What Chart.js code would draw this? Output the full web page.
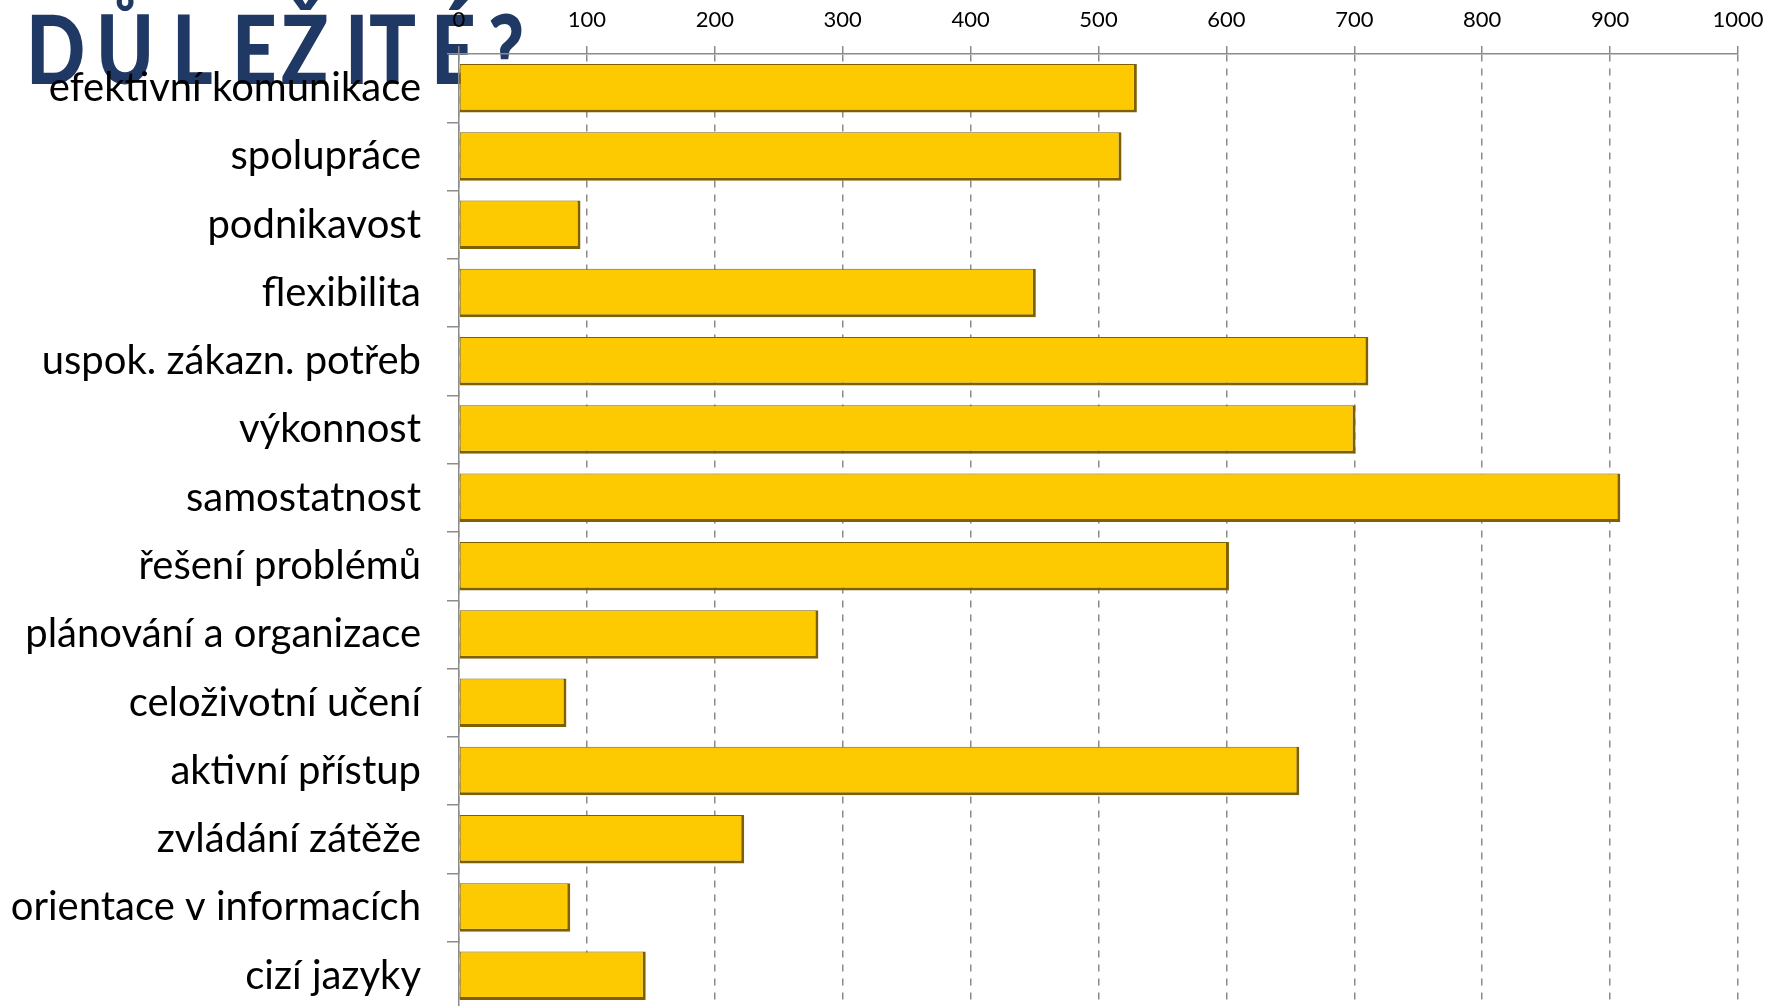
<!DOCTYPE html>
<html lang="cs">
<head>
<meta charset="utf-8">
<title>Důležité?</title>
<script src="https://cdn.jsdelivr.net/npm/chart.js@4"></script>
<style>
  html, body { margin: 0; padding: 0; background: #fff; overflow: hidden; }
  #wrap { position: relative; width: 1783px; height: 1006px; overflow: hidden; }
  #title { position: absolute; left: 0; top: 0; width: 700px; height: 110px; z-index: 0;
           font-family: Lato, sans-serif; font-weight: 900; font-size: 95px; color: #1F3864; }
  #title span { position: absolute; top: 0px; display: inline-block;
                transform: scaleX(0.82); transform-origin: left top; line-height: 1; }
  #chartBox { position: absolute; left: 0; top: 0; z-index: 1; }
</style>
</head>
<body>
<div id="wrap">
  <div id="title">
    <span style="left:26px">D</span><span style="left:96px">Ů</span><span style="left:172px">L</span>
    <span style="left:232px">E</span><span style="left:281px">Ž</span><span style="left:345px">I</span>
    <span style="left:369px">T</span><span style="left:431px">É</span><span style="left:488px">?</span>
  </div>
  <div id="chartBox"><canvas id="chartSkills" width="1783" height="1010"></canvas></div>
</div>
<script>
  // competences (top to bottom) and how many answers marked each as important
  const categories = [
    'efektivní komunikace', 'spolupráce', 'podnikavost', 'flexibilita',
    'uspok. zákazn. potřeb', 'výkonnost', 'samostatnost', 'řešení problémů',
    'plánování a organizace', 'celoživotní učení', 'aktivní přístup',
    'zvládání zátěže', 'orientace v informacích', 'cizí jazyky'
  ];
  const answers = [530, 518, 95, 451, 711, 701, 908, 602, 281, 84, 657, 223, 87, 146];
  const xTicks = [0, 100, 200, 300, 400, 500, 600, 700, 800, 900, 1000];

  const canvas = document.getElementById('chartSkills');

  new Chart(canvas.getContext('2d'), {
    type: 'bar',
    data: {
      labels: categories,
      datasets: [{
        data: answers,
        backgroundColor: '#FDC900',
        borderColor: '#7E6000',
        borderWidth: { top: 1, left: 1, right: 3, bottom: 3 },
        borderSkipped: false,
        categoryPercentage: 1,
        barPercentage: 0.71
      }]
    },
    options: {
      indexAxis: 'y',
      responsive: false,
      animation: false,
      layout: { padding: { left: 0, top: 0, right: 45, bottom: 0 } },
      plugins: { legend: { display: false }, tooltip: { enabled: false } },
      scales: {
        x: {
          position: 'top',
          min: 0,
          max: 1000,
          afterBuildTicks: (axis) => { axis.ticks = xTicks.map(v => ({ value: v })); },
          afterFit: (axis) => { axis.height = 54; },
          ticks: {
            color: '#000',
            font: { family: 'Lato', size: 22 },
            padding: 13,
            callback: (v) => String(v)
          },
          grid: {
            color: '#8c8c8c',
            lineWidth: 1.5,
            tickLength: 8,
            tickBorderDash: []
          },
          border: { display: true, color: '#8c8c8c', width: 1.5, dash: [7, 7] }
        },
        y: {
          afterFit: (axis) => {
            axis.width = 459;
            // keep the label half-heights from shrinking the plot area
            axis.paddingTop = 0;
            axis.paddingBottom = 0;
          },
          ticks: {
            color: '#000',
            font: { family: 'Lato', size: 40 },
            padding: 26
          },
          grid: {
            display: true,
            drawOnChartArea: false,
            drawTicks: true,
            tickLength: 12,
            color: '#8c8c8c',
            lineWidth: 1.5
          },
          border: { display: true, color: '#8c8c8c', width: 1.5 }
        }
      }
    }
  });
</script>
</body>
</html>
